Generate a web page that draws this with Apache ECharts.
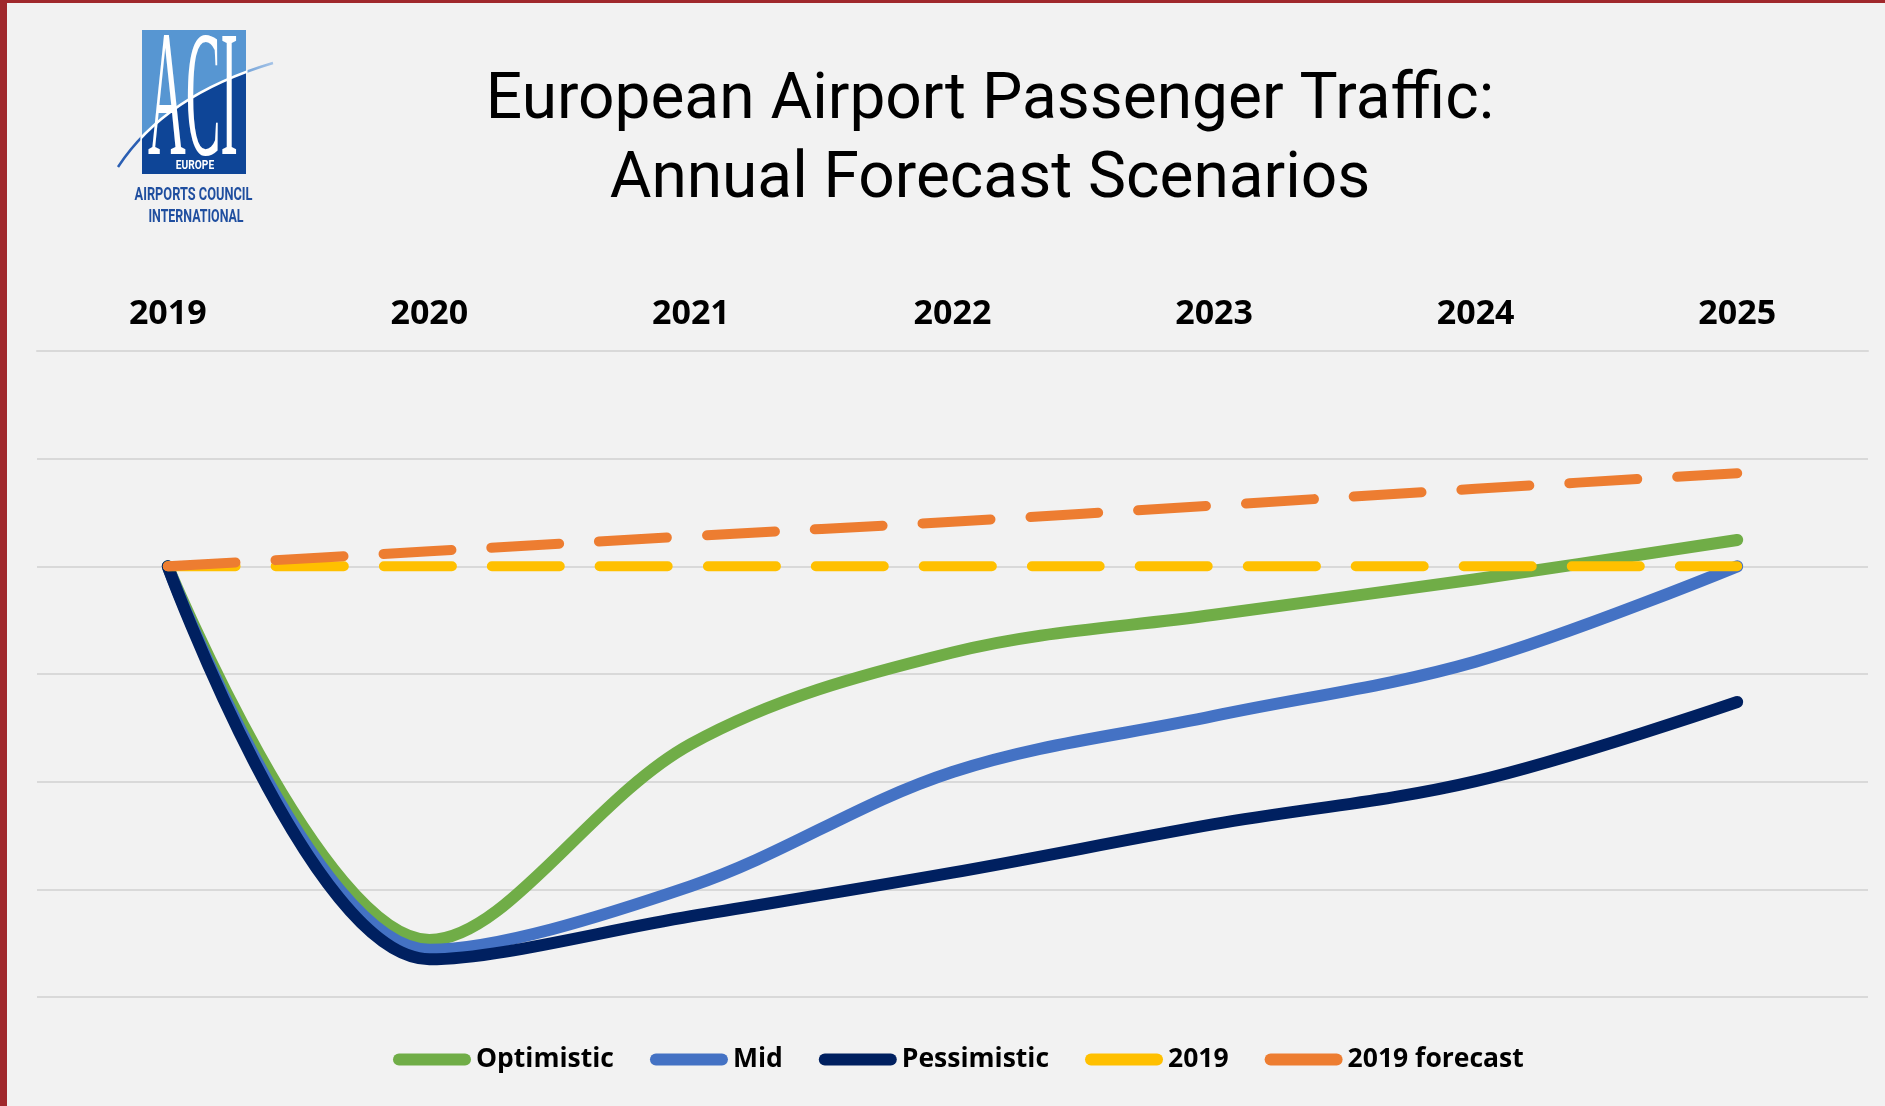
<!DOCTYPE html>
<html><head><meta charset="utf-8">
<script src="https://cdn.jsdelivr.net/npm/echarts@6/dist/echarts.min.js"></script>
<style>html,body{margin:0;padding:0;background:#f2f2f2}#c{width:1885px;height:1106px}</style>
</head><body><div id="c"></div>
<script>
// ---- data ----
const years = ['2019', '2020', '2021', '2022', '2023', '2024', '2025'];
const optimistic = [100, 30.6, 67, 84, 91, 97.6, 104.9];
const mid = [100, 28.8, 40.6, 61.8, 72.2, 82.3, 100];
const pessimistic = [100, 27, 35, 43.1, 52.1, 60.1, 74.8];
const level2019 = [100, 100, 100, 100, 100, 100, 100];
const forecast2019 = [100, 102.8, 105.6, 108.3, 111.3, 114.4, 117.3];
const seriesNames = ['Optimistic', 'Mid', 'Pessimistic', '2019', '2019 forecast'];
const titleLines = ['European Airport Passenger Traffic:', 'Annual Forecast Scenarios'];

const colors = ['#70ad47', '#4472c4', '#002060', '#ffc000', '#ed7d31'];
const seriesData = [optimistic, mid, pessimistic, level2019, forecast2019];

const chart = echarts.init(document.getElementById('c'), null, {renderer: 'canvas'});

const series = seriesData.map((d, i) => ({
  name: seriesNames[i],
  type: 'line',
  data: d,
  smooth: 0.35,
  showSymbol: false,
  symbol: 'none',
  lineStyle: i < 3
    ? {color: colors[i], width: 12, cap: 'round', join: 'round'}
    : {color: colors[i], width: 10, cap: 'round', join: 'round', type: [68, 40]},
  itemStyle: {color: colors[i]},
  emphasis: {disabled: true},
  z: 2 + i
}));

const capsule = 'path://M6,0H72A6,6 0 0 1 72,12H6A6,6 0 0 1 6,0Z';

// logo swoosh (quadratic) sampled for the dark area outline
const sw = {x1: 118, y1: 167, cx: 165, cy: 95, x2: 273, y2: 63};
const darkPts = [];
for (let k = 0; k <= 40; k++) {
  const t = k / 40, u = 1 - t;
  darkPts.push([u * u * sw.x1 + 2 * u * t * sw.cx + t * t * sw.x2, u * u * sw.y1 + 2 * u * t * sw.cy + t * t * sw.y2]);
}
darkPts.push([273, 174], [118, 174]);

const option = {
  backgroundColor: '#f2f2f2',
  animation: false,
  color: colors,
  grid: {left: 37, right: 17, top: 351, bottom: 109, containLabel: false},
  xAxis: {
    type: 'category',
    data: years,
    position: 'top',
    boundaryGap: true,
    axisTick: {show: false},
    axisLine: {show: true, lineStyle: {color: '#d9d9d9', width: 2}},
    axisLabel: {fontFamily: 'Open Sans', fontWeight: 'bold', fontSize: 34, color: '#000', margin: 20}
  },
  yAxis: {
    type: 'value',
    min: 20, max: 140, interval: 20,
    axisLabel: {show: false},
    axisLine: {show: false},
    axisTick: {show: false},
    splitLine: {show: true, lineStyle: {color: '#d9d9d9', width: 2}}
  },
  legend: {
    left: 393,
    top: 1046,
    padding: 0,
    itemWidth: 78,
    itemHeight: 12,
    itemGap: 36,
    icon: capsule,
    itemStyle: {borderWidth: 0},
    textStyle: {fontFamily: 'Open Sans', fontWeight: 'bold', fontSize: 26.5, color: '#000'},
    data: seriesNames.map((n, i) => ({name: n, itemStyle: {color: colors[i], borderWidth: 0}}))
  },
  series: series,
  graphic: [
    // page borders
    {type: 'rect', shape: {x: 0, y: 0, width: 7, height: 1106}, style: {fill: '#a0282c'}, z: 100},
    {type: 'rect', shape: {x: 0, y: 0, width: 1885, height: 3}, style: {fill: '#a0282c'}, z: 100},
    // logo
    {type: 'rect', shape: {x: 142, y: 30, width: 104, height: 144}, style: {fill: '#5796d2'}, z: 10},
    {type: 'polygon', shape: {points: darkPts}, style: {fill: '#0e4597'}, z: 11},
    {type: 'rect', shape: {x: 100, y: 28, width: 42, height: 150}, style: {fill: '#f2f2f2'}, z: 12},
    {type: 'rect', shape: {x: 246, y: 28, width: 40, height: 150}, style: {fill: '#f2f2f2'}, z: 12},
    {type: 'bezierCurve', shape: {x1: sw.x1, y1: sw.y1, cpx1: sw.cx, cpy1: sw.cy, x2: sw.x2, y2: sw.y2}, z: 13,
      style: {fill: null, lineWidth: 2.5, stroke: new echarts.graphic.LinearGradient(0, 0, 1, 0, [
        {offset: 0, color: '#2b5fb3'}, {offset: 0.15, color: '#2b5fb3'}, {offset: 0.16, color: '#ffffff'},
        {offset: 0.82, color: '#ffffff'}, {offset: 0.83, color: '#7aa7da'}, {offset: 1, color: '#a9c6e8'}])}},
    {type: 'text', x: 193, y: 107, scaleX: 0.29, z: 14,
      style: {text: 'ACI', fill: '#ffffff', font: '180px "Liberation Serif"', textAlign: 'center', textVerticalAlign: 'middle'}},
    {type: 'text', x: 195, y: 166, scaleX: 0.85, z: 14,
      style: {text: 'EUROPE', fill: '#ffffff', font: 'bold 12px Roboto', textAlign: 'center', textVerticalAlign: 'middle'}},
    {type: 'text', x: 193.5, y: 195, scaleX: 0.71, z: 14,
      style: {text: 'AIRPORTS COUNCIL', fill: '#1f4e9f', font: 'bold 18px Roboto', textAlign: 'center', textVerticalAlign: 'middle'}},
    {type: 'text', x: 196, y: 217, scaleX: 0.69, z: 14,
      style: {text: 'INTERNATIONAL', fill: '#1f4e9f', font: 'bold 18px Roboto', textAlign: 'center', textVerticalAlign: 'middle'}},
    // title
    {type: 'text', x: 990, y: 102, z: 14,
      style: {text: titleLines[0], fill: '#000', font: '64px Roboto', textAlign: 'center', textVerticalAlign: 'middle'}},
    {type: 'text', x: 990, y: 181, z: 14,
      style: {text: titleLines[1], fill: '#000', font: '64px Roboto', textAlign: 'center', textVerticalAlign: 'middle'}}
  ]
};
chart.setOption(option);
</script>
</body></html>
